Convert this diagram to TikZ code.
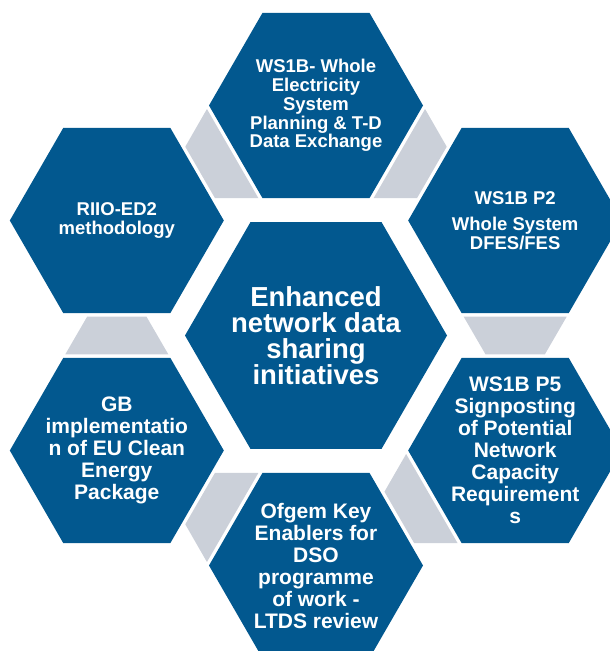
\documentclass[tikz,border=0pt]{standalone}
\usepackage{fontspec}
\setmainfont{Liberation Sans}
\usetikzlibrary{calc}

\definecolor{hexblue}{HTML}{02588F}
\definecolor{linkgrey}{HTML}{CBD0D9}

\tikzset{
  hexfill/.style={fill=hexblue, draw=none},
  link/.style={fill=linkgrey, draw=none},
  celltext/.style={text=white, align=center, inner sep=0pt,
    font=\bfseries\fontsize{18.5}{18.8}\selectfont},
  celltextlg/.style={celltext, font=\bfseries\fontsize{21}{22}\selectfont},
  hubtext/.style={celltext, font=\bfseries\fontsize{27.5}{25.8}\selectfont}
}

\begin{document}
\begin{tikzpicture}[x=1pt, y=1pt]
  \useasboundingbox (0,0) rectangle (610,-651);
  \clip (0,0) rectangle (610,-651);

  % centres of the hub and of the six surrounding cells
  \coordinate (hub) at (316,-335.5);
  \foreach \cell/\ang in {top/90, ne/30, se/-30, bot/-90, sw/210, nw/150}
    \coordinate (\cell) at ($(hub)+(\ang:230)$);

  % grey links: a tapering band from one cell towards its neighbour
  \foreach \cell/\dir in {top/-30, top/210, ne/-90, se/-150, bot/150, sw/90}
    \fill[link, shift={(\cell)}, rotate=\dir]
      (96.2,51.5) -- (96.2,-51.5) -- (133.8,-29.7) -- (133.8,29.7) -- cycle;

  % hexagonal cells
  \foreach \cell in {top, ne, se, bot, sw, nw}
    \fill[hexfill, shift={(\cell)}]
      (0:107) -- (60:107) -- (120:107) -- (180:107) -- (240:107) -- (300:107) -- cycle;
  \fill[hexfill, shift={(hub)}]
    (0:131) -- (60:131) -- (120:131) -- (180:131) -- (240:131) -- (300:131) -- cycle;

  % labels
  \node[hubtext] (hubt) at (hub) {Enhanced\\network data\\sharing\\initiatives};
  \node[celltext] (topt) at (top) {WS1B- Whole\\Electricity\\System\\Planning \& T-D\\Data Exchange};
  \node[celltext] (net) at (ne) {WS1B P2\\[7pt]Whole System\\DFES/FES};
  \node[celltextlg] (set) at (se) {WS1B P5\\Signposting\\of Potential\\Network\\Capacity\\Requirement\\s};
  \node[celltextlg] (bott) at (bot) {Ofgem Key\\Enablers for\\DSO\\programme\\of work -\\LTDS review};
  \node[celltextlg] (swt) at (sw) {GB\\implementatio\\n of EU Clean\\Energy\\Package};
  \node[celltext] (nwt) at (nw) {RIIO-ED2\\methodology};
\end{tikzpicture}
\end{document}
